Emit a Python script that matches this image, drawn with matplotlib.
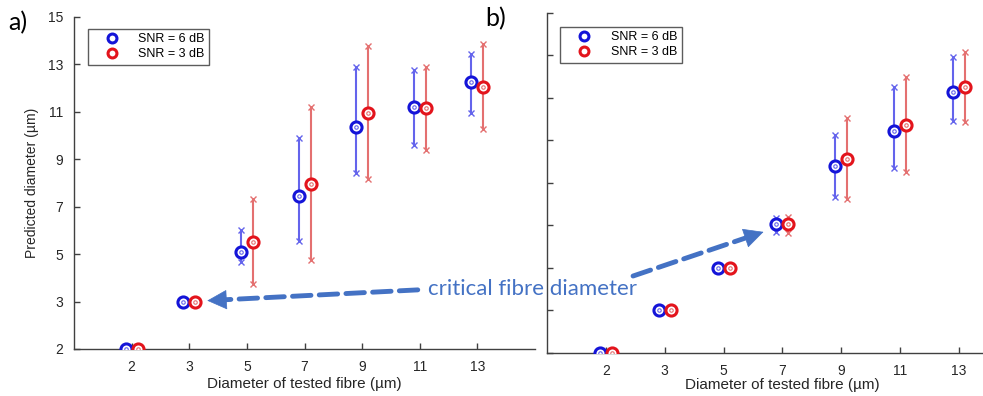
import numpy as np
import matplotlib.pyplot as plt
from matplotlib import transforms

# ---- datos (um) ----
fibras = [2, 3, 5, 7, 9, 11, 13]

# panel a)
a_snr6_med = [2.0, 3.0, 5.1, 7.45, 10.35, 11.2, 12.25]
a_snr6_lo = [2.0, 3.0, 4.67, 5.55, 8.42, 9.6, 10.95]
a_snr6_hi = [2.0, 3.0, 6.0, 9.9, 12.9, 12.75, 13.45]
a_snr3_med = [2.0, 3.0, 5.5, 7.95, 10.95, 11.15, 12.05]
a_snr3_lo = [2.0, 3.0, 3.74, 4.75, 8.17, 9.4, 10.28]
a_snr3_hi = [2.0, 3.0, 7.33, 11.2, 13.78, 12.9, 13.86]

# panel b)
b_snr6_med = [2.0, 3.0, 5.0, 7.07, 9.8, 11.45, 13.3]
b_snr6_lo = [2.0, 3.0, 5.0, 6.7, 8.34, 9.7, 11.92]
b_snr6_hi = [2.0, 3.0, 5.0, 7.35, 11.26, 13.5, 14.93]
b_snr3_med = [2.0, 3.0, 5.0, 7.07, 10.13, 11.73, 13.52]
b_snr3_lo = [2.0, 3.0, 5.0, 6.65, 8.25, 9.52, 11.87]
b_snr3_hi = [2.0, 3.0, 5.0, 7.4, 12.06, 13.98, 15.16]

ticks_a = [2, 3, 5, 7, 9, 11, 13, 15]
ticks_b = [2, 3, 5, 7, 9, 11, 13, 15, 17]
etiquetas = ["SNR = 6 dB", "SNR = 3 dB"]

azul, azul_barra = "#1414d8", "#6464ec"
rojo, rojo_barra = "#e3141c", "#e47070"
flecha = "#4472c4"


# escala: 2 y 3 separados una unidad, despues cada 2 um
def fwd(v):
    v = np.asarray(v, dtype=float)
    return np.where(v < 3, v - 2, (v - 1) / 2)


def inv(t):
    t = np.asarray(t, dtype=float)
    return np.where(t < 1, t + 2, 2 * t + 1)


plt.rcParams["font.family"] = ["Liberation Sans", "DejaVu Sans"]

fig = plt.figure(figsize=(9.83, 3.96), dpi=100)
ax1 = fig.add_axes([0.0753, 0.1187, 0.469, 0.8384])
ax2 = fig.add_axes([0.5565, 0.1086, 0.479, 0.8586])


def pintar(ax, med, lo, hi, c, cb, dx, etiqueta):
    tr = transforms.offset_copy(ax.transData, fig=fig, x=dx, y=0, units="dots")
    ax.vlines(fibras, lo, hi, colors=cb, lw=1.5, transform=tr, zorder=2)
    ax.plot(fibras, lo, "x", color=cb, ms=4.5, mew=1, transform=tr, zorder=3)
    ax.plot(fibras, hi, "x", color=cb, ms=4.5, mew=1, transform=tr, zorder=3)
    ax.plot(fibras, med, "o", mfc="white", mec=c, ms=8, mew=2.2,
            transform=tr, zorder=4, label=etiqueta)
    ax.plot(fibras, med, "o", mfc="none", mec=cb, ms=2.5, mew=0.8,
            transform=tr, zorder=5)


pintar(ax1, a_snr6_med, a_snr6_lo, a_snr6_hi, azul, azul_barra, -6, etiquetas[0])
pintar(ax1, a_snr3_med, a_snr3_lo, a_snr3_hi, rojo, rojo_barra, 6, etiquetas[1])
pintar(ax2, b_snr6_med, b_snr6_lo, b_snr6_hi, azul, azul_barra, -6, etiquetas[0])
pintar(ax2, b_snr3_med, b_snr3_lo, b_snr3_hi, rojo, rojo_barra, 6, etiquetas[1])

for ax, yt, top, lp in [(ax1, ticks_a, 15, 2), (ax2, ticks_b, 17, 0)]:
    ax.set_xscale("function", functions=(fwd, inv))
    ax.set_yscale("function", functions=(fwd, inv))
    ax.set_xlim(1, 15)
    ax.set_ylim(2, top)
    ax.set_xticks(fibras)
    ax.set_xticklabels([str(f) for f in fibras])
    ax.set_yticks(yt)
    ax.minorticks_off()
    for s in ["top", "right"]:
        ax.spines[s].set_visible(False)
    for s in ["left", "bottom"]:
        ax.spines[s].set_color("#404040")
        ax.spines[s].set_linewidth(1)
    ax.tick_params(direction="in", length=4, width=1, color="#404040",
                   labelsize=10, labelcolor="#262626", pad=8)
    ax.set_xlabel("Diameter of tested fibre (µm)", fontsize=11, color="#262626",
                  labelpad=lp)
    ax.patch.set_alpha(0)

ax1.set_yticklabels([str(t) for t in ticks_a])
ax1.set_ylabel("Predicted diameter (µm)", fontsize=10, color="#262626", labelpad=6)
ax2.set_yticklabels([])

for ax, anc in [(ax1, (0.03, 0.964)), (ax2, (0.0276, 0.959))]:
    leg = ax.legend(loc="upper left", bbox_to_anchor=anc, fontsize=9,
                    frameon=True, fancybox=False, borderpad=0.35,
                    handletextpad=0.5, handlelength=3.2, labelspacing=0.25,
                    markerscale=0.8, borderaxespad=0)
    leg.get_frame().set_edgecolor("#333333")
    leg.get_frame().set_linewidth(1)

fig.text(0.008, 0.943, "a)", fontsize=18, family="Lato", va="center")
fig.text(0.494, 0.953, "b)", fontsize=18, family="Lato", va="center")

# anotacion: diametro critico de fibra
fig.text(0.4354, 0.271, "critical fibre diameter", fontsize=16, family="Lato",
         color=flecha, va="center", ha="left", zorder=10)


def flecha_discontinua(ax, xy, cola_fig, recorte):
    # linea discontinua + punta solida, en pixeles de la figura
    p = ax.transData.transform(xy)
    cola = fig.transFigure.transform(cola_fig)
    u = (cola - p) / np.hypot(*(cola - p))
    punta = p + u * recorte
    base = punta + u * 14
    ax.annotate("", xy=base, xycoords="figure pixels", xytext=cola,
                textcoords="figure pixels", annotation_clip=False,
                arrowprops=dict(arrowstyle="-", color=flecha, lw=3.5,
                                linestyle=(0, (3.8, 1.7)), shrinkA=0, shrinkB=0))
    ax.annotate("", xy=punta, xycoords="figure pixels", xytext=base + u * 2,
                textcoords="figure pixels", annotation_clip=False,
                arrowprops=dict(arrowstyle="-|>,head_length=1.1,head_width=0.55",
                                color=flecha, lw=0.5, mutation_scale=12,
                                shrinkA=0, shrinkB=0))


flecha_discontinua(ax1, (3, 3), (0.425, 0.268), 18)
flecha_discontinua(ax2, (7, 7), (0.644, 0.303), 20)

fig.savefig("out.png", dpi=100)
